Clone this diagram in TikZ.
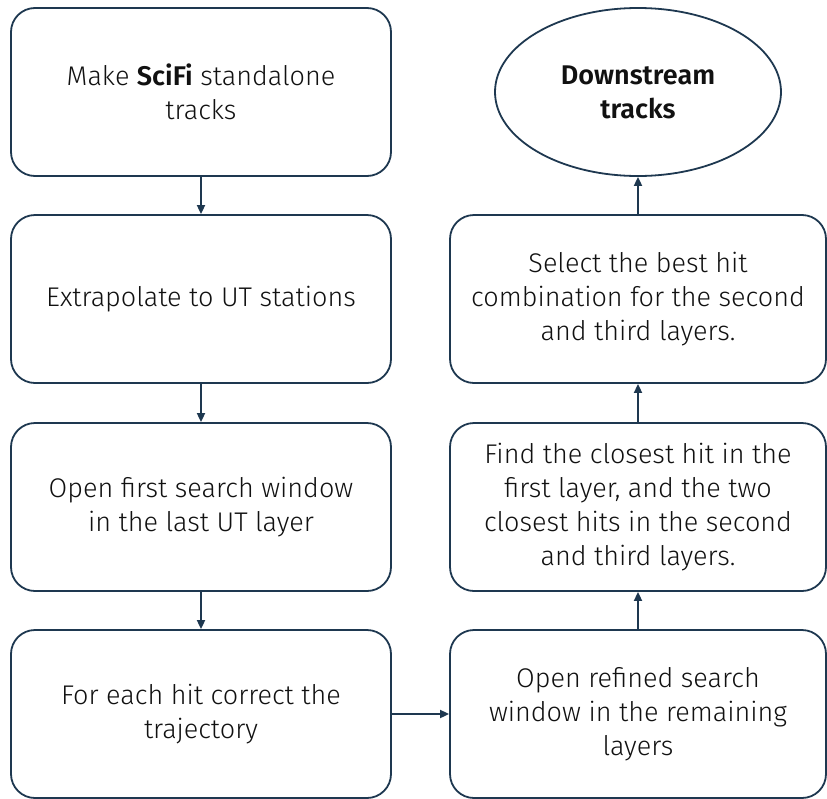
\documentclass[tikz,border=0pt]{standalone}
\usepackage{fontspec}
\setmainfont{Fira Sans}[UprightFont={* Light}, BoldFont={* SemiBold}]
\usetikzlibrary{arrows.meta,shapes.geometric}
\definecolor{edge}{HTML}{1E3850}
\definecolor{ink}{HTML}{111111}
\tikzset{
  stepbox/.style={draw=edge, line width=1.8pt, rounded corners=24pt, fill=white,
    minimum height=168pt, align=center, text=ink,
    font=\fontsize{27}{34}\selectfont, inner sep=0pt},
  leftbox/.style={stepbox, minimum width=380pt},
  rightbox/.style={stepbox, minimum width=376pt},
  endpoint/.style={draw=edge, line width=1.8pt, ellipse, minimum width=286pt,
    minimum height=168pt, align=center, text=ink, inner sep=0pt,
    font=\fontsize{27}{34}\selectfont\bfseries},
  flow/.style={draw=edge, line width=1.8pt, -{Triangle[length=9pt,width=8pt]}}
}
\begin{document}
\begin{tikzpicture}[x=1pt,y=-1pt]
  \useasboundingbox (0,0) rectangle (827,798);
  % left column
  \node[leftbox] (make)  at (201,92)  {Make \textbf{SciFi} standalone\\tracks};
  \node[leftbox] (extra) at (201,299) {Extrapolate to UT stations};
  \node[leftbox] (first) at (201,507) {Open first search window\\in the last UT layer};
  \node[leftbox] (corr)  at (201,714) {For each hit correct the\\trajectory};
  % right column
  \node[rightbox] (refine) at (638,714) {Open refined search\\window in the remaining\\layers};
  \node[rightbox] (find)   at (638,507) {Find the closest hit in the\\first layer, and the two\\closest hits in the second\\and third layers.};
  \node[rightbox] (select) at (638,299) {Select the best hit\\combination for the second\\and third layers.};
  \node[endpoint] (down)   at (638,92)  {Downstream\\tracks};
  % connectors
  \draw[flow] (make) -- (extra);
  \draw[flow] (extra) -- (first);
  \draw[flow] (first) -- (corr);
  \draw[flow] (corr) -- (refine);
  \draw[flow] (refine) -- (find);
  \draw[flow] (find) -- (select);
  \draw[flow] (select) -- (down);
\end{tikzpicture}
\end{document}
